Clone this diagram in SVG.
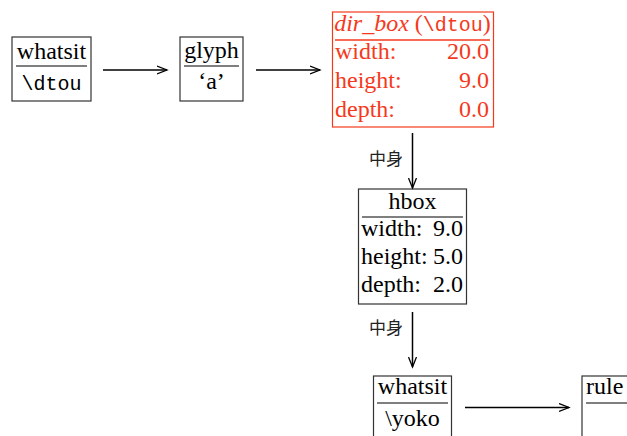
<svg xmlns="http://www.w3.org/2000/svg" width="627" height="436" viewBox="0 0 627 436">
<defs>
<marker id="arr" markerWidth="12" markerHeight="10" refX="10" refY="5" orient="auto" markerUnits="userSpaceOnUse">
<path d="M0,1 L10,5 L0,9" fill="none" stroke="#000" stroke-width="1.3"/>
</marker>
<style>
.box{fill:#fff;stroke:#333;stroke-width:1.2}
.rbox{fill:#fff;stroke:#f5391c;stroke-width:1.2}
.div{stroke:#555;stroke-width:1.5}
.rdiv{stroke:#f5391c;stroke-width:1.5}
.t{font-family:"Liberation Serif","Times New Roman",serif;font-size:24px;fill:#000}
.m{font-family:"Liberation Mono","Courier New",monospace;font-size:20px;fill:#000}
.r{fill:#f5391c}
.c{font-family:"Noto Sans CJK JP","Noto Sans CJK SC",sans-serif;font-size:17px;fill:#222}
.e{fill:none;stroke:#000;stroke-width:1.5}
</style>
</defs>
<g id="whatsit1">
<rect class="box" x="12" y="37" width="79" height="64"/>
<line class="div" x1="16" y1="66" x2="87" y2="66"/>
<text class="t" x="51.5" y="59" text-anchor="middle">whatsit</text>
<text class="m" x="51.5" y="90" text-anchor="middle">\dtou</text>
</g>
<g id="glyph">
<rect class="box" x="180" y="37" width="63" height="64"/>
<line class="div" x1="184" y1="66" x2="239" y2="66"/>
<text class="t" x="211.5" y="58" text-anchor="middle">glyph</text>
<text class="t" x="211.5" y="89" text-anchor="middle">‘a’</text>
</g>
<g id="dir_box">
<rect class="rbox" x="332.5" y="12" width="161" height="115"/>
<line class="rdiv" x1="335" y1="40" x2="490" y2="40"/>
<text class="t r" x="412.5" y="31" text-anchor="middle"><tspan font-style="italic">dir_box</tspan> (<tspan class="m r">\dtou</tspan>)</text>
<text class="t r" x="335" y="59">width:</text>
<text class="t r" x="489" y="59" text-anchor="end">20.0</text>
<text class="t r" x="335" y="88">height:</text>
<text class="t r" x="489" y="88" text-anchor="end">9.0</text>
<text class="t r" x="335" y="117">depth:</text>
<text class="t r" x="489" y="117" text-anchor="end">0.0</text>
</g>
<g id="hbox">
<rect class="box" x="358.5" y="189" width="108" height="115"/>
<line class="div" x1="362" y1="217" x2="463" y2="217"/>
<text class="t" x="412.5" y="209" text-anchor="middle">hbox</text>
<text class="t" x="361" y="236">width:</text>
<text class="t" x="463" y="236" text-anchor="end">9.0</text>
<text class="t" x="361" y="264">height:</text>
<text class="t" x="463" y="264" text-anchor="end">5.0</text>
<text class="t" x="361" y="292">depth:</text>
<text class="t" x="463" y="292" text-anchor="end">2.0</text>
</g>
<g id="whatsit2">
<rect class="box" x="373.5" y="376" width="78" height="80"/>
<line class="div" x1="377" y1="403" x2="448" y2="403"/>
<text class="t" x="412.5" y="394" text-anchor="middle">whatsit</text>
<text class="t" x="412.5" y="426" text-anchor="middle">\yoko</text>
</g>
<g id="rule">
<rect class="box" x="582" y="376" width="80" height="80"/>
<line class="div" x1="586" y1="403" x2="640" y2="403"/>
<text class="t" x="586" y="394">rule</text>
</g>
<g id="connectors">
<line class="e" x1="103" y1="70" x2="167" y2="70" marker-end="url(#arr)"/>
<line class="e" x1="256" y1="70" x2="320" y2="70" marker-end="url(#arr)"/>
<line class="e" x1="412.5" y1="133" x2="412.5" y2="188" marker-end="url(#arr)"/>
<text class="c" x="369" y="165">中身</text>
<line class="e" x1="412.5" y1="312" x2="412.5" y2="367" marker-end="url(#arr)"/>
<text class="c" x="369" y="334">中身</text>
<line class="e" x1="465" y1="407.5" x2="569" y2="407.5" marker-end="url(#arr)"/>
</g>
</svg>
